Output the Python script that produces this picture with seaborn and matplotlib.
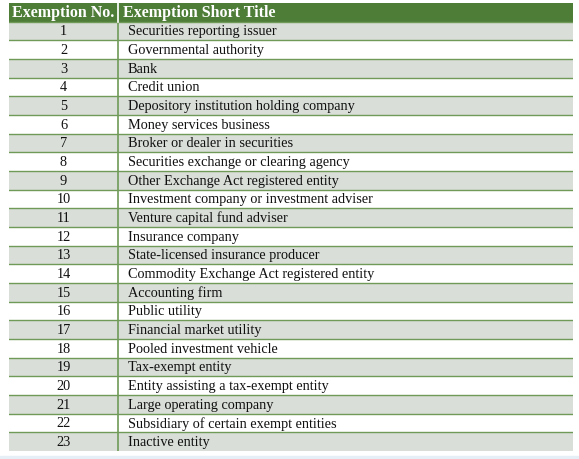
import numpy as np
import matplotlib
matplotlib.use("Agg")
import matplotlib.pyplot as plt
from matplotlib.colors import ListedColormap
import seaborn as sns

headers = ["Exemption No.", "Exemption Short Title"]
numbers = [str(i) for i in range(1, 24)]
titles = [
    "Securities reporting issuer", "Governmental authority", "Bank", "Credit union",
    "Depository institution holding company", "Money services business",
    "Broker or dealer in securities", "Securities exchange or clearing agency",
    "Other Exchange Act registered entity", "Investment company or investment adviser",
    "Venture capital fund adviser", "Insurance company", "State-licensed insurance producer",
    "Commodity Exchange Act registered entity", "Accounting firm", "Public utility",
    "Financial market utility", "Pooled investment vehicle", "Tax-exempt entity",
    "Entity assisting a tax-exempt entity", "Large operating company",
    "Subsidiary of certain exempt entities", "Inactive entity",
]

W, H = 579, 459
fig = plt.figure(figsize=(W/100, H/100), dpi=100)
fig.patch.set_facecolor("white")
fig.add_artist(plt.Rectangle((0, 0), 1, 3.5/H, color="#e6eef6", transform=fig.transFigure))
x0, x1, ytop, ybot = 9, 573, 3, 451
ax = fig.add_axes([x0/W, 1 - ybot/H, (x1-x0)/W, (ybot-ytop)/H])
nrows = len(numbers) + 1
vals = np.array([[0]] + [[1 if i % 2 == 0 else 2] for i in range(len(numbers))])
data = np.repeat(vals, x1 - x0, axis=1)
cmap = ListedColormap(["#4e7d38", "#d9ded8", "#ffffff"])
sns.heatmap(data, ax=ax, cmap=cmap, vmin=-0.5, vmax=2.5, cbar=False,
            xticklabels=False, yticklabels=False)
green = "#6f9a58"
div = 118 - x0
for r in range(1, nrows):
    ax.axhline(r, color=green, lw=1.0)
ax.plot([div, div], [0, nrows], color=green, lw=1.2)
ax.plot([div, div], [0, 1], color="white", lw=1.2)
font = "Liberation Serif"
ax.text(div/2, 0.55, headers[0], ha="center", va="center", color="white",
        fontweight="bold", fontsize=11.5, family=font)
ax.text(div + 5, 0.55, headers[1], ha="left", va="center", color="white",
        fontweight="bold", fontsize=11.5, family=font)
for i, (n, t) in enumerate(zip(numbers, titles)):
    y = i + 1.55
    ax.text(div/2, y, n, ha="center", va="center", fontsize=10.3, family=font, color="#111111")
    ax.text(div + 10, y, t, ha="left", va="center", fontsize=10.3, family=font, color="#111111")
for s in ax.spines.values():
    s.set_visible(False)
fig.savefig("out.png", dpi=100)
